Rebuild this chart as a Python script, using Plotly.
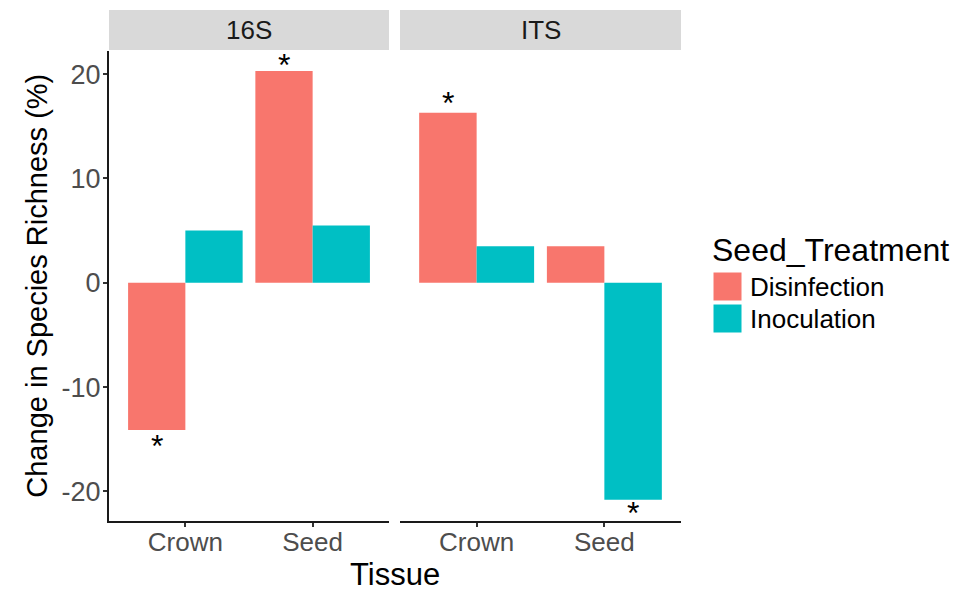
import plotly.graph_objects as go

# page body has an 8px margin: the figure is drawn 8px in from the window corner
OFF = 8
W, H = 958 - OFF, 591 - OFF

# ---------------- data ----------------
tissues = ["Crown", "Seed"]
panels = ["16S", "ITS"]
treatments = ["Disinfection", "Inoculation"]
colors = ["#F8766D", "#00BFC4"]

disinf_16S = [-14.1, 20.3]
inoc_16S = [5.0, 5.5]
disinf_ITS = [16.3, 3.5]
inoc_ITS = [3.5, -20.8]

# significance markers (panel, tissue, treatment, label y position)
star_panel = ["16S", "16S", "ITS", "ITS"]
star_tissue = ["Crown", "Seed", "Crown", "Seed"]
star_treat = ["Disinfection", "Disinfection", "Disinfection", "Inoculation"]
star_y = [-15.2, 21.35, 17.7, -21.6]

y_ticks = [-20, -10, 0, 10, 20]

# ---------------- layout geometry (window pixels) ----------------
def px_x(p):
    return (p - OFF) / W

def px_y(p):
    return 1 - (p - OFF) / H

FONT = "Liberation Sans, Arial, Helvetica, sans-serif"
panel_px = [(109, 389), (400, 681)]
plot_top, plot_bot = 50.7, 520.7
strip_top = 10

fig = go.Figure()

series = {"16S": [disinf_16S, inoc_16S], "ITS": [disinf_ITS, inoc_ITS]}
axis_ids = {"16S": ("x", "y"), "ITS": ("x2", "y2")}

for p in panels:
    xa, ya = axis_ids[p]
    for ti, t in enumerate(treatments):
        fig.add_trace(go.Bar(
            x=tissues, y=series[p][ti], name=t,
            marker=dict(color=colors[ti], line=dict(width=0)),
            offsetgroup=t, xaxis=xa, yaxis=ya, showlegend=False,
        ))

dodge = 0.9 / len(treatments)
for sp, st, str_, sy in zip(star_panel, star_tissue, star_treat, star_y):
    xa, _ = axis_ids[sp]
    xi = tissues.index(st) + (treatments.index(str_) - 0.5) * dodge
    fig.add_annotation(x=xi, y=sy, xref=xa, yref="y", text="*",
                       showarrow=False, yanchor="middle", yshift=-5,
                       font=dict(size=32, color="black", family=FONT))

common_x = dict(type="category", range=[-0.6, 1.6], showgrid=False, zeroline=False,
                showline=True, linecolor="#1a1a1a", linewidth=2,
                ticks="outside", ticklen=4, tickwidth=1.5, tickcolor="#333333",
                ticklabelstandoff=-7,
                tickfont=dict(size=26, color="#4D4D4D", family=FONT),
                fixedrange=True)
yrng = [-22.8, 22.24]
fig.update_layout(
    width=W, height=H,
    margin=dict(l=0, r=0, t=0, b=0),
    paper_bgcolor="white", plot_bgcolor="white",
    barmode="group", bargap=0.1, bargroupgap=0,
    showlegend=False,
    xaxis=dict(domain=[px_x(panel_px[0][0]), px_x(panel_px[0][1])], anchor="y", **common_x),
    xaxis2=dict(domain=[px_x(panel_px[1][0]), px_x(panel_px[1][1])], anchor="y2", **common_x),
    yaxis=dict(domain=[px_y(plot_bot), px_y(plot_top)], anchor="x", range=yrng,
               showgrid=False, zeroline=False, showline=True, linecolor="#1a1a1a", linewidth=2,
               ticks="outside", ticklen=4, tickwidth=1.5, tickcolor="#333333",
               ticklabelstandoff=-3,
               tickvals=y_ticks, ticktext=[str(v) for v in y_ticks],
               tickfont=dict(size=27, color="#4D4D4D", family=FONT)),
    yaxis2=dict(domain=[px_y(plot_bot), px_y(plot_top)], anchor="x2", range=yrng,
                matches="y", showgrid=False, zeroline=False, showline=False,
                showticklabels=False, ticks=""),
)

# facet strips
for p, (x0, x1) in zip(panels, panel_px):
    fig.add_shape(type="rect", xref="paper", yref="paper",
                  x0=px_x(x0), x1=px_x(x1), y0=px_y(strip_top), y1=px_y(plot_top - 0.7),
                  fillcolor="#D9D9D9", line=dict(width=0), layer="below")
    fig.add_annotation(xref="paper", yref="paper", x=px_x((x0 + x1) / 2),
                       y=px_y((strip_top + plot_top) / 2), text=p, showarrow=False,
                       xanchor="center", yanchor="middle",
                       font=dict(size=26, color="#1A1A1A", family=FONT))

# axis titles
fig.add_annotation(xref="paper", yref="paper", x=px_x(37), y=px_y((plot_top + plot_bot) / 2),
                   text="Change in Species Richness (%)", textangle=-90, showarrow=False,
                   xanchor="center", yanchor="middle",
                   font=dict(size=29, color="black", family=FONT))
fig.add_annotation(xref="paper", yref="paper",
                   x=px_x((panel_px[0][0] + panel_px[1][1]) / 2), y=px_y(574),
                   text="Tissue", showarrow=False, xanchor="center", yanchor="middle",
                   font=dict(size=31, color="black", family=FONT))

# legend
leg_x = 713
fig.add_annotation(xref="paper", yref="paper", x=px_x(leg_x - 3), y=px_y(250),
                   text="Seed_Treatment", showarrow=False, xanchor="left", yanchor="middle",
                   font=dict(size=32, color="black", family=FONT))
key_tops = [272, 304]
for t, c, kt in zip(treatments, colors, key_tops):
    fig.add_shape(type="rect", xref="paper", yref="paper",
                  x0=px_x(leg_x), x1=px_x(leg_x + 29), y0=px_y(kt), y1=px_y(kt + 29),
                  fillcolor=c, line=dict(width=1, color="white"))
    fig.add_annotation(xref="paper", yref="paper", x=px_x(748), y=px_y(kt + 15),
                       text=t, showarrow=False, xanchor="left", yanchor="middle",
                       font=dict(size=26, color="black", family=FONT))

fig.write_html("out.html")
